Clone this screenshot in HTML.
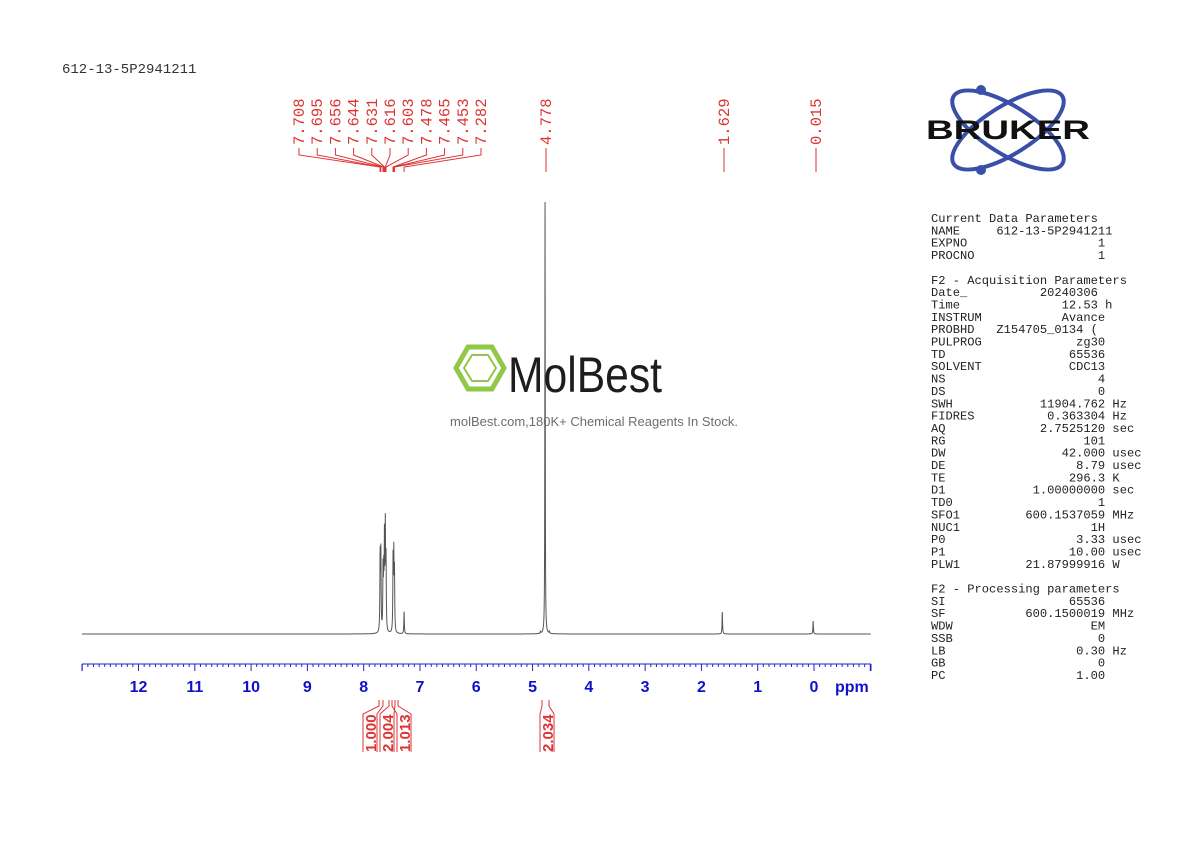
<!DOCTYPE html>
<html><head><meta charset="utf-8"><style>
body{margin:0;background:#fff;width:1190px;height:842px;overflow:hidden}
svg{display:block}
.m{font-family:"Liberation Mono",monospace}
</style></head><body>
<svg id="s" width="1190" height="842" xmlns="http://www.w3.org/2000/svg">
<text x="62" y="73" class="m" font-size="14" fill="#333">612-13-5P2941211</text>
<g id="pl" fill="#d33" font-family="Liberation Mono,monospace" font-size="15.5"></g>
<g id="ax"></g>
<path id="sp" fill="none" stroke="#555" stroke-width="1"/>
<g opacity="0.95">
<polygon points="468,347 492,347 504,368 492,389 468,389 456,368" fill="none" stroke="#8dc63f" stroke-width="5"/>
<polygon points="472,355 488,355 496,368 488,381 472,381 464,368" fill="none" stroke="#8dc63f" stroke-width="2"/>
<text x="508" y="392" font-family="Liberation Sans Narrow,Liberation Sans,sans-serif" font-size="50" fill="#111" textLength="154" lengthAdjust="spacingAndGlyphs">MolBest</text>
<text x="594" y="426" text-anchor="middle" font-family="Liberation Sans,sans-serif" font-size="13" fill="#666">molBest.com,180K+ Chemical Reagents In Stock.</text>
</g>
<g fill="none" stroke="#3a4fa8" stroke-width="4">
<ellipse cx="1008" cy="130" rx="64" ry="24" transform="rotate(32 1008 130)"/>
<ellipse cx="1008" cy="130" rx="64" ry="24" transform="rotate(-32 1008 130)"/>
</g>
<circle cx="981" cy="90" r="5" fill="#3a4fa8"/><circle cx="981" cy="170" r="5" fill="#3a4fa8"/>
<text x="1008" y="139" text-anchor="middle" font-family="Liberation Sans,sans-serif" font-weight="bold" font-size="27" fill="#111" textLength="164" lengthAdjust="spacingAndGlyphs">BRUKER</text>
<text id="par" class="m" font-size="12.1" fill="#222"></text>
</svg>
<script>
var S='http://www.w3.org/2000/svg',s=document.getElementById('s');
function X(p){return 814-56.29*p}
function el(t,a,par,txt){var e=document.createElementNS(S,t);for(var k in a)e.setAttribute(k,a[k]);if(txt!=null)e.textContent=txt;(par||s).appendChild(e);return e}
var pk=[[7.708,76],[7.695,78],[7.656,60],[7.644,53],[7.631,88],[7.616,100],[7.603,68],[7.478,72],[7.465,74],[7.453,58],[7.282,22],[4.778,432],[1.629,22],[0.015,13],[4.86,2],[4.70,2]];
var xs=[];for(var x=82;x<=871;x+=0.2)xs.push(x);pk.forEach(function(q){xs.push(X(q[0]))});xs.sort(function(a,b){return a-b});
var d='';xs.forEach(function(x,i){var p=(814-x)/56.29,y=0;pk.forEach(function(q){var w=q[1]>200?0.004:0.005;y+=q[1]/(1+Math.pow((p-q[0])/w,2))});d+=(i==0?'M':'L')+x.toFixed(2)+','+(634-Math.min(y,432)).toFixed(1)});
document.getElementById('sp').setAttribute('d',d);
var ax=document.getElementById('ax');
el('line',{x1:82,y1:664,x2:871,y2:664,stroke:'#22c','stroke-width':1},ax);
for(var i=-10;i<=130;i++){var p=i/10,x=X(p);if(x<81.5||x>871.5)continue;var maj=i%10==0;el('line',{x1:x,y1:664,x2:x,y2:maj?671:667,stroke:'#22c','stroke-width':1},ax);if(maj&&i>=0&&i<=120)el('text',{x:x,y:692,'text-anchor':'middle','font-family':'Liberation Sans,sans-serif','font-weight':'bold','font-size':16,fill:'#11c'},ax,String(p))}
el('line',{x1:82,y1:664,x2:82,y2:671,stroke:'#22c'},ax);el('line',{x1:871,y1:664,x2:871,y2:671,stroke:'#22c'},ax);
el('text',{x:835,y:692,'font-family':'Liberation Sans,sans-serif','font-weight':'bold','font-size':16,fill:'#11c'},ax,'ppm');
var pl=document.getElementById('pl');
var labs=['7.708','7.695','7.656','7.644','7.631','7.616','7.603','7.478','7.465','7.453','7.282'];
labs.forEach(function(l,i){var lx=299+i*18.2,px=X(parseFloat(l));
el('text',{transform:'translate('+(lx+5)+',145) rotate(-90)'},pl,l);
el('path',{d:'M'+lx+',148 L'+lx+',155 L'+px+',167 L'+px+',172',fill:'none',stroke:'#d33'},pl)});
[['4.778',546],['1.629',724],['0.015',816]].forEach(function(a){el('text',{transform:'translate('+(a[1]+5)+',145) rotate(-90)'},pl,a[0]);el('line',{x1:a[1],y1:148,x2:a[1],y2:172,stroke:'#d33'},pl)});
[[363,379,383,'1.000'],[380,389,395,'2.004'],[397,392,398,'1.013'],[540,542,549,'2.034']].forEach(function(a){
var cx=a[0]+7;el('path',{d:'M'+(a[1])+',700 L'+a[1]+',706 L'+(cx-7)+',714 L'+(cx-7)+',752 M'+a[2]+',700 L'+a[2]+',706 L'+(cx+7)+',714 L'+(cx+7)+',752',fill:'none',stroke:'#d33'});
el('text',{transform:'translate('+(cx+6)+',752) rotate(-90)','font-family':'Liberation Sans,sans-serif','font-weight':'bold','font-size':15,fill:'#d33'},null,a[3])});
var P=['Current Data Parameters','NAME     612-13-5P2941211','EXPNO                  1','PROCNO                 1','','F2 - Acquisition Parameters','Date_          20240306','Time              12.53 h','INSTRUM           Avance','PROBHD   Z154705_0134 (','PULPROG             zg30','TD                 65536','SOLVENT            CDC13','NS                     4','DS                     0','SWH            11904.762 Hz','FIDRES          0.363304 Hz','AQ             2.7525120 sec','RG                   101','DW                42.000 usec','DE                  8.79 usec','TE                 296.3 K','D1            1.00000000 sec','TD0                    1','SFO1         600.1537059 MHz','NUC1                  1H','P0                  3.33 usec','P1                 10.00 usec','PLW1         21.87999916 W','','F2 - Processing parameters','SI                 65536','SF           600.1500019 MHz','WDW                   EM','SSB                    0','LB                  0.30 Hz','GB                     0','PC                  1.00'];
var par=document.getElementById('par');P.forEach(function(l,i){el('tspan',{x:931,y:222+i*12.35},par,l.replace(/ /g,'\u00a0'))});
</script>
</body></html>
